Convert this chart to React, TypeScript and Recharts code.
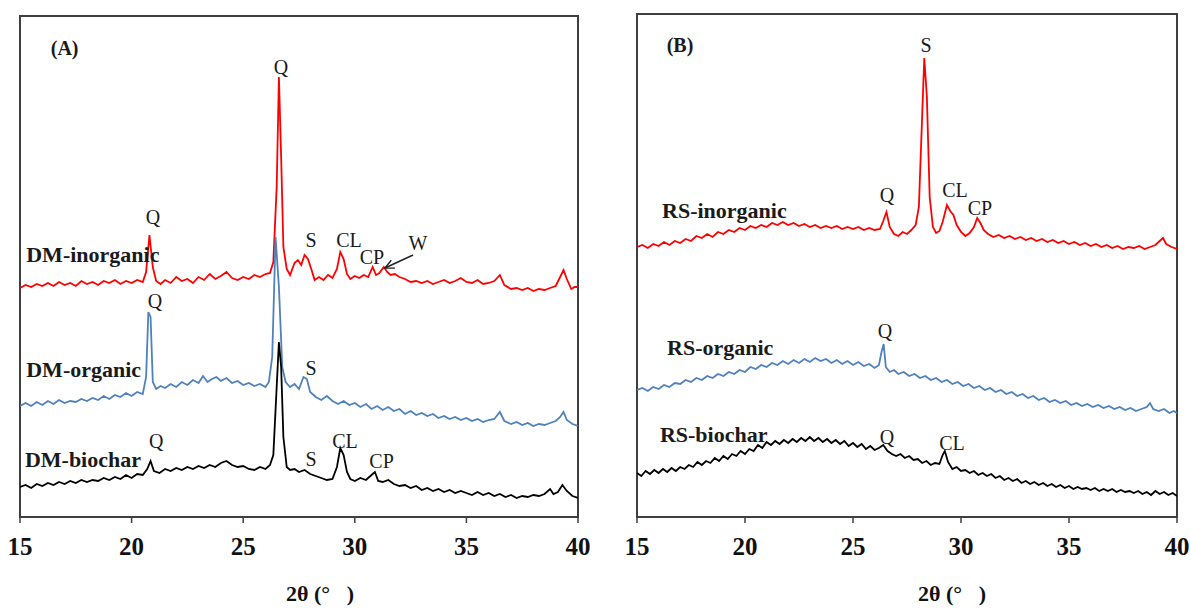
import React from "react";
import {
  Label,
  Line,
  LineChart,
  ReferenceArea,
  ReferenceDot,
  ReferenceLine,
  XAxis,
  YAxis,
} from "recharts";

type Pt = [number, number];

const xTicks = [15, 20, 25, 30, 35, 40];

// (A) DM patterns, 2θ vs intensity (a.u., stacked offsets)
const dmInorganic: Pt[] = [
  [15, 229], [15.25, 232], [15.5, 230], [15.75, 233], [16, 231], [16.25, 234], [16.5, 231], [16.75, 235],
  [17, 232], [17.25, 234], [17.5, 231], [17.75, 236], [18, 233], [18.25, 235], [18.5, 232], [18.75, 236],
  [19, 234], [19.25, 237], [19.5, 233], [19.75, 236], [20, 234], [20.25, 237], [20.5, 235], [20.65, 245],
  [20.8, 282], [20.95, 250], [21.1, 236], [21.3, 233], [21.5, 237], [21.75, 234], [22, 240], [22.25, 236],
  [22.5, 238], [22.75, 234], [23, 240], [23.25, 237], [23.5, 243], [23.75, 238], [24, 241], [24.25, 245],
  [24.5, 239], [24.75, 237], [25, 240], [25.25, 238], [25.5, 242], [25.75, 240], [26, 243], [26.2, 244],
  [26.35, 255], [26.5, 330], [26.6, 440], [26.7, 360], [26.8, 270], [26.95, 248], [27.1, 242], [27.3, 254],
  [27.45, 257], [27.6, 252], [27.75, 262], [27.9, 258], [28.05, 248], [28.2, 237], [28.4, 240], [28.6, 237],
  [28.8, 242], [29, 239], [29.2, 248], [29.35, 265], [29.5, 258], [29.65, 243], [29.8, 238], [30, 241],
  [30.2, 239], [30.4, 242], [30.6, 240], [30.8, 250], [30.95, 242], [31.1, 244], [31.3, 250], [31.45, 245],
  [31.6, 242], [31.8, 243], [32, 240], [32.25, 238], [32.5, 235], [32.75, 236], [33, 234], [33.25, 236],
  [33.5, 233], [33.75, 235], [34, 237], [34.25, 234], [34.5, 236], [34.75, 239], [35, 235], [35.25, 234],
  [35.5, 237], [35.75, 233], [36, 234], [36.25, 236], [36.5, 242], [36.7, 232], [37, 228], [37.25, 229],
  [37.5, 227], [37.75, 229], [38, 226], [38.25, 228], [38.5, 227], [38.75, 229], [39, 231], [39.2, 240],
  [39.35, 247], [39.5, 238], [39.7, 228], [39.85, 230], [40, 230],
];

const dmOrganic: Pt[] = [
  [15, 111], [15.25, 114], [15.5, 111], [15.75, 115], [16, 112], [16.25, 116], [16.5, 113], [16.75, 117],
  [17, 114], [17.25, 116], [17.5, 115], [17.75, 118], [18, 116], [18.25, 119], [18.5, 117], [18.75, 121],
  [19, 118], [19.25, 122], [19.5, 120], [19.75, 124], [20, 121], [20.25, 125], [20.5, 123], [20.65, 140],
  [20.75, 205], [20.85, 200], [20.95, 135], [21.1, 128], [21.3, 131], [21.5, 129], [21.75, 133], [22, 130],
  [22.25, 135], [22.5, 132], [22.75, 137], [23, 134], [23.2, 141], [23.4, 135], [23.6, 138], [23.8, 140],
  [24, 136], [24.25, 139], [24.5, 134], [24.75, 136], [25, 132], [25.25, 134], [25.5, 131], [25.75, 133],
  [26, 130], [26.15, 135], [26.3, 160], [26.45, 280], [26.6, 230], [26.75, 150], [26.9, 135], [27.1, 130],
  [27.3, 133], [27.5, 128], [27.7, 140], [27.85, 138], [28, 125], [28.25, 120], [28.5, 117], [28.75, 121],
  [29, 116], [29.25, 113], [29.5, 116], [29.75, 112], [30, 114], [30.25, 110], [30.5, 113], [30.75, 108],
  [31, 111], [31.25, 107], [31.5, 110], [31.75, 106], [32, 108], [32.25, 103], [32.5, 106], [32.75, 102],
  [33, 104], [33.25, 101], [33.5, 103], [33.75, 99], [34, 101], [34.25, 98], [34.5, 100], [34.75, 97],
  [35, 99], [35.25, 96], [35.5, 98], [35.75, 95], [36, 97], [36.25, 98], [36.5, 105], [36.7, 96],
  [37, 93], [37.25, 95], [37.5, 92], [37.75, 94], [38, 91], [38.25, 93], [38.5, 92], [38.75, 94],
  [39, 96], [39.2, 100], [39.35, 105], [39.5, 97], [39.75, 93], [40, 91],
];

const dmBiochar: Pt[] = [
  [15, 30], [15.25, 32], [15.5, 29], [15.75, 33], [16, 31], [16.25, 34], [16.5, 32], [16.75, 35],
  [17, 33], [17.25, 36], [17.5, 34], [17.75, 37], [18, 35], [18.25, 37], [18.5, 36], [18.75, 39],
  [19, 37], [19.25, 40], [19.5, 38], [19.75, 42], [20, 39], [20.25, 43], [20.5, 42], [20.7, 48],
  [20.85, 56], [21, 46], [21.25, 44], [21.5, 48], [21.75, 46], [22, 49], [22.25, 47], [22.5, 50],
  [22.75, 48], [23, 51], [23.25, 49], [23.5, 52], [23.75, 50], [24, 54], [24.25, 56], [24.5, 52],
  [24.75, 50], [25, 51], [25.25, 48], [25.5, 47], [25.75, 50], [26, 48], [26.2, 52], [26.35, 62],
  [26.5, 130], [26.6, 175], [26.7, 150], [26.8, 80], [26.95, 50], [27.1, 47], [27.3, 48], [27.5, 45],
  [27.75, 47], [28, 43], [28.25, 41], [28.5, 39], [28.75, 37], [29, 38], [29.2, 50], [29.35, 69],
  [29.5, 62], [29.65, 45], [29.8, 38], [30, 36], [30.25, 39], [30.5, 37], [30.75, 42], [30.9, 45],
  [31.05, 36], [31.25, 35], [31.5, 37], [31.75, 33], [32, 31], [32.25, 32], [32.5, 29], [32.75, 31],
  [33, 27], [33.25, 29], [33.5, 26], [33.75, 28], [34, 25], [34.25, 27], [34.5, 24], [34.75, 26],
  [35, 24], [35.25, 22], [35.5, 25], [35.75, 22], [36, 24], [36.25, 21], [36.5, 23], [36.75, 20],
  [37, 22], [37.25, 19], [37.5, 21], [37.75, 20], [38, 22], [38.25, 21], [38.5, 23], [38.75, 28],
  [38.9, 23], [39.1, 25], [39.3, 32], [39.5, 26], [39.75, 21], [40, 19],
];

// (B) RS patterns
const rsInorganic: Pt[] = [
  [15, 270], [15.25, 272], [15.5, 269], [15.75, 273], [16, 271], [16.25, 275], [16.5, 272], [16.75, 276],
  [17, 274], [17.25, 278], [17.5, 276], [17.75, 281], [18, 279], [18.25, 283], [18.5, 280], [18.75, 285],
  [19, 283], [19.25, 287], [19.5, 285], [19.75, 289], [20, 287], [20.25, 291], [20.5, 289], [20.75, 292],
  [21, 290], [21.25, 294], [21.5, 292], [21.75, 295], [22, 292], [22.25, 294], [22.5, 291], [22.75, 293],
  [23, 290], [23.25, 292], [23.5, 289], [23.75, 291], [24, 289], [24.25, 291], [24.5, 288], [24.75, 290],
  [25, 288], [25.25, 290], [25.5, 287], [25.75, 289], [26, 287], [26.25, 288], [26.4, 296], [26.55, 305],
  [26.7, 290], [26.9, 283], [27.1, 281], [27.3, 285], [27.5, 283], [27.7, 287], [27.9, 292], [28.05, 310],
  [28.2, 400], [28.3, 459], [28.42, 420], [28.55, 320], [28.7, 290], [28.85, 284], [29, 286], [29.15, 295],
  [29.35, 312], [29.5, 306], [29.65, 302], [29.8, 292], [30, 285], [30.2, 281], [30.4, 284], [30.6, 290],
  [30.75, 299], [30.9, 294], [31.05, 287], [31.25, 283], [31.5, 280], [31.75, 282], [32, 279], [32.25, 281],
  [32.5, 278], [32.75, 280], [33, 277], [33.25, 279], [33.5, 276], [33.75, 278], [34, 275], [34.25, 277],
  [34.5, 274], [34.75, 276], [35, 273], [35.25, 275], [35.5, 272], [35.75, 274], [36, 271], [36.25, 273],
  [36.5, 270], [36.75, 272], [37, 269], [37.25, 271], [37.5, 268], [37.75, 270], [38, 269], [38.25, 271],
  [38.5, 268], [38.75, 270], [39, 272], [39.2, 276], [39.35, 279], [39.5, 273], [39.75, 270], [40, 268],
];

const rsOrganic: Pt[] = [
  [15, 127], [15.25, 129], [15.5, 126], [15.75, 130], [16, 128], [16.25, 132], [16.5, 130], [16.75, 134],
  [17, 133], [17.25, 137], [17.5, 135], [17.75, 139], [18, 137], [18.25, 141], [18.5, 139], [18.75, 143],
  [19, 141], [19.25, 145], [19.5, 143], [19.75, 147], [20, 145], [20.25, 150], [20.5, 148], [20.75, 152],
  [21, 150], [21.25, 154], [21.5, 152], [21.75, 156], [22, 153], [22.25, 157], [22.5, 154], [22.75, 158],
  [23, 155], [23.25, 159], [23.5, 156], [23.75, 158], [24, 154], [24.25, 157], [24.5, 153], [24.75, 156],
  [25, 152], [25.25, 155], [25.5, 151], [25.75, 153], [26, 149], [26.2, 152], [26.32, 165], [26.42, 173],
  [26.52, 150], [26.7, 145], [26.9, 147], [27.1, 143], [27.35, 145], [27.6, 141], [27.85, 143], [28.1, 139],
  [28.35, 141], [28.6, 137], [28.85, 139], [29.1, 135], [29.35, 137], [29.6, 133], [29.85, 135], [30.1, 131],
  [30.35, 133], [30.6, 129], [30.85, 131], [31.1, 127], [31.35, 129], [31.6, 125], [31.85, 127], [32.1, 123],
  [32.35, 125], [32.6, 121], [32.85, 123], [33.1, 119], [33.35, 121], [33.6, 117], [33.85, 119], [34.1, 115],
  [34.35, 117], [34.6, 114], [34.85, 116], [35.1, 112], [35.35, 114], [35.6, 111], [35.85, 113], [36.1, 110],
  [36.35, 112], [36.6, 109], [36.85, 111], [37.1, 108], [37.35, 110], [37.6, 107], [37.85, 109], [38.1, 106],
  [38.35, 108], [38.6, 110], [38.75, 114], [38.9, 108], [39.15, 106], [39.4, 108], [39.65, 104], [39.85, 106],
  [40, 104],
];

const rsBiochar: Pt[] = [
  [15, 44], [15.2, 41], [15.4, 46], [15.6, 43], [15.8, 47], [16, 44], [16.2, 48], [16.4, 45],
  [16.6, 49], [16.8, 46], [17, 50], [17.2, 48], [17.4, 52], [17.6, 50], [17.8, 55], [18, 52],
  [18.2, 56], [18.4, 54], [18.6, 59], [18.8, 56], [19, 61], [19.2, 58], [19.4, 63], [19.6, 61],
  [19.8, 66], [20, 63], [20.2, 68], [20.4, 66], [20.6, 72], [20.8, 69], [21, 75], [21.2, 72],
  [21.4, 76], [21.6, 73], [21.8, 77], [22, 74], [22.2, 78], [22.4, 75], [22.6, 79], [22.8, 76],
  [23, 80], [23.2, 76], [23.4, 79], [23.6, 75], [23.8, 78], [24, 74], [24.2, 77], [24.4, 73],
  [24.6, 76], [24.8, 71], [25, 74], [25.2, 70], [25.4, 73], [25.6, 68], [25.8, 71], [26, 67],
  [26.2, 69], [26.4, 72], [26.6, 66], [26.8, 63], [27, 61], [27.2, 63], [27.4, 59], [27.6, 61],
  [27.8, 57], [28, 58], [28.2, 54], [28.4, 56], [28.6, 52], [28.8, 54], [29, 53], [29.15, 62],
  [29.25, 66], [29.4, 55], [29.6, 48], [29.8, 50], [30, 46], [30.2, 47], [30.4, 44], [30.6, 46],
  [30.8, 42], [31, 44], [31.2, 41], [31.4, 43], [31.6, 39], [31.8, 41], [32, 37], [32.2, 39],
  [32.4, 36], [32.6, 38], [32.8, 34], [33, 36], [33.2, 33], [33.4, 35], [33.6, 32], [33.8, 34],
  [34, 31], [34.2, 33], [34.4, 30], [34.6, 32], [34.8, 29], [35, 31], [35.2, 28], [35.4, 30],
  [35.6, 28], [35.8, 29], [36, 27], [36.2, 29], [36.4, 26], [36.6, 28], [36.8, 26], [37, 28],
  [37.2, 25], [37.4, 27], [37.6, 25], [37.8, 26], [38, 24], [38.2, 26], [38.4, 23], [38.6, 25],
  [38.8, 22], [39, 26], [39.2, 23], [39.4, 25], [39.6, 22], [39.8, 24], [40, 21],
];

type Kind = "panel" | "sample" | "peak";
type Note = { x: number; y: number; text: string; kind: Kind };

const notesA: Note[] = [
  { x: 17.0, y: 469, text: "(A)", kind: "panel" },
  { x: 15.28, y: 263, text: "DM-inorganic", kind: "sample" },
  { x: 15.28, y: 148, text: "DM-organic", kind: "sample" },
  { x: 15.22, y: 58, text: "DM-biochar", kind: "sample" },
  { x: 26.69, y: 450, text: "Q", kind: "peak" },
  { x: 20.96, y: 300, text: "Q", kind: "peak" },
  { x: 28.04, y: 277, text: "S", kind: "peak" },
  { x: 29.74, y: 277, text: "CL", kind: "peak" },
  { x: 30.77, y: 260, text: "CP", kind: "peak" },
  { x: 32.83, y: 274, text: "W", kind: "peak" },
  { x: 21.05, y: 216, text: "Q", kind: "peak" },
  { x: 28.04, y: 149, text: "S", kind: "peak" },
  { x: 21.1, y: 76, text: "Q", kind: "peak" },
  { x: 28.04, y: 58, text: "S", kind: "peak" },
  { x: 29.56, y: 76, text: "CL", kind: "peak" },
  { x: 31.2, y: 56, text: "CP", kind: "peak" },
];

const notesB: Note[] = [
  { x: 16.99, y: 472, text: "(B)", kind: "panel" },
  { x: 16.16, y: 307, text: "RS-inorganic", kind: "sample" },
  { x: 16.39, y: 170, text: "RS-organic", kind: "sample" },
  { x: 16.06, y: 83, text: "RS-biochar", kind: "sample" },
  { x: 28.38, y: 472, text: "S", kind: "peak" },
  { x: 26.57, y: 322, text: "Q", kind: "peak" },
  { x: 29.72, y: 327, text: "CL", kind: "peak" },
  { x: 30.88, y: 309, text: "CP", kind: "peak" },
  { x: 26.48, y: 186, text: "Q", kind: "peak" },
  { x: 26.57, y: 80, text: "Q", kind: "peak" },
  { x: 29.58, y: 74, text: "CL", kind: "peak" },
];

// arrow from the "W" label to its peak in (A)
const wArrow = [
  { x: 32.61, y: 262 },
  { x: 31.35, y: 249 },
];

const serif = "'Liberation Serif', 'Times New Roman', serif";
const frame = "#3f3f3f";
const RED = "#ff0000";
const BLUE = "#4f81bd";
const BLACK = "#000000";

const toRows = (pts: Pt[]) => pts.map(([x, y]) => ({ x, y }));

const noteStyle: Record<Kind, { size: number; weight: string; anchor: "start" | "middle" }> = {
  panel: { size: 20, weight: "bold", anchor: "middle" },
  sample: { size: 22, weight: "bold", anchor: "start" },
  peak: { size: 20, weight: "normal", anchor: "middle" },
};

const NoteText = (note: Note) => (props: any) => {
  const st = noteStyle[note.kind];
  return (
    <text
      x={props.cx}
      y={props.cy}
      textAnchor={st.anchor}
      dominantBaseline="central"
      fontFamily={serif}
      fontSize={st.size}
      fontWeight={st.weight}
      fill="#1a1a1a"
    >
      {note.text}
    </text>
  );
};

const Arrow = (p: any) => {
  const { x1, y1, x2, y2 } = p;
  const ang = Math.atan2(y2 - y1, x2 - x1);
  const h = 10;
  const a1 = ang + Math.PI - 0.45;
  const a2 = ang + Math.PI + 0.45;
  return (
    <g stroke="#222" strokeWidth={1.4} fill="none">
      <line x1={x1} y1={y1} x2={x2} y2={y2} />
      <polyline
        points={`${x2 + h * Math.cos(a1)},${y2 + h * Math.sin(a1)} ${x2},${y2} ${x2 + h * Math.cos(a2)},${y2 + h * Math.sin(a2)}`}
      />
    </g>
  );
};

const AxisTitle = (dx: number) => (props: any) => {
  const vb = props.viewBox;
  return (
    <text
      x={vb.x + vb.width / 2 + dx}
      y={601}
      textAnchor="middle"
      fontFamily={serif}
      fontSize={22}
      fontWeight="bold"
      fill="#111"
    >
      {"2θ (°\u00A0\u00A0\u00A0)"}
    </text>
  );
};

type Series = { name: string; color: string; points: Pt[] };

const Panel = ({
  left,
  width,
  margin,
  yMax,
  titleDx,
  series,
  notes,
  arrow,
}: {
  left: number;
  width: number;
  margin: { top: number; right: number; left: number; bottom: number };
  yMax: number;
  titleDx: number;
  series: Series[];
  notes: Note[];
  arrow?: { x: number; y: number }[];
}) => (
  <div style={{ position: "absolute", left, top: 0 }}>
    <LineChart width={width} height={608} margin={margin}>
      <XAxis
        type="number"
        dataKey="x"
        domain={[15, 40]}
        ticks={xTicks}
        interval={0}
        allowDataOverflow
        height={91}
        tickSize={6}
        tickMargin={14}
        axisLine={{ stroke: frame, strokeWidth: 2 }}
        tickLine={{ stroke: frame, strokeWidth: 1.5 }}
        tick={{ fill: "#111", fontSize: 25, fontWeight: "bold", fontFamily: serif }}
      >
        <Label content={AxisTitle(titleDx)} />
      </XAxis>
      <YAxis type="number" dataKey="y" domain={[0, yMax]} hide allowDataOverflow />
      <ReferenceArea
        x1={15}
        x2={40}
        y1={0}
        y2={yMax}
        fill="none"
        stroke={frame}
        strokeWidth={2}
        ifOverflow="visible"
      />
      {series.map((s) => (
        <Line
          key={s.name}
          name={s.name}
          data={toRows(s.points)}
          dataKey="y"
          type="linear"
          stroke={s.color}
          strokeWidth={1.8}
          dot={false}
          isAnimationActive={false}
        />
      ))}
      {notes.map((n, i) => (
        <ReferenceDot key={i} x={n.x} y={n.y} r={0} shape={NoteText(n)} ifOverflow="visible" />
      ))}
      {arrow && (
        <ReferenceLine segment={arrow} shape={Arrow} ifOverflow="visible" />
      )}
    </LineChart>
  </div>
);

const App = () => (
  <div
    style={{
      position: "absolute",
      left: 0,
      top: 0,
      width: 1191,
      height: 608,
      background: "#fff",
    }}
  >
    <Panel
      left={0}
      width={600}
      margin={{ top: 16, right: 22, left: 20, bottom: 0 }}
      yMax={501}
      titleDx={21}
      series={[
        { name: "DM-inorganic", color: RED, points: dmInorganic },
        { name: "DM-organic", color: BLUE, points: dmOrganic },
        { name: "DM-biochar", color: BLACK, points: dmBiochar },
      ]}
      notes={notesA}
      arrow={wArrow}
    />
    <Panel
      left={600}
      width={591}
      margin={{ top: 14, right: 14, left: 37, bottom: 0 }}
      yMax={503}
      titleDx={45}
      series={[
        { name: "RS-inorganic", color: RED, points: rsInorganic },
        { name: "RS-organic", color: BLUE, points: rsOrganic },
        { name: "RS-biochar", color: BLACK, points: rsBiochar },
      ]}
      notes={notesB}
    />
  </div>
);

export default App;
